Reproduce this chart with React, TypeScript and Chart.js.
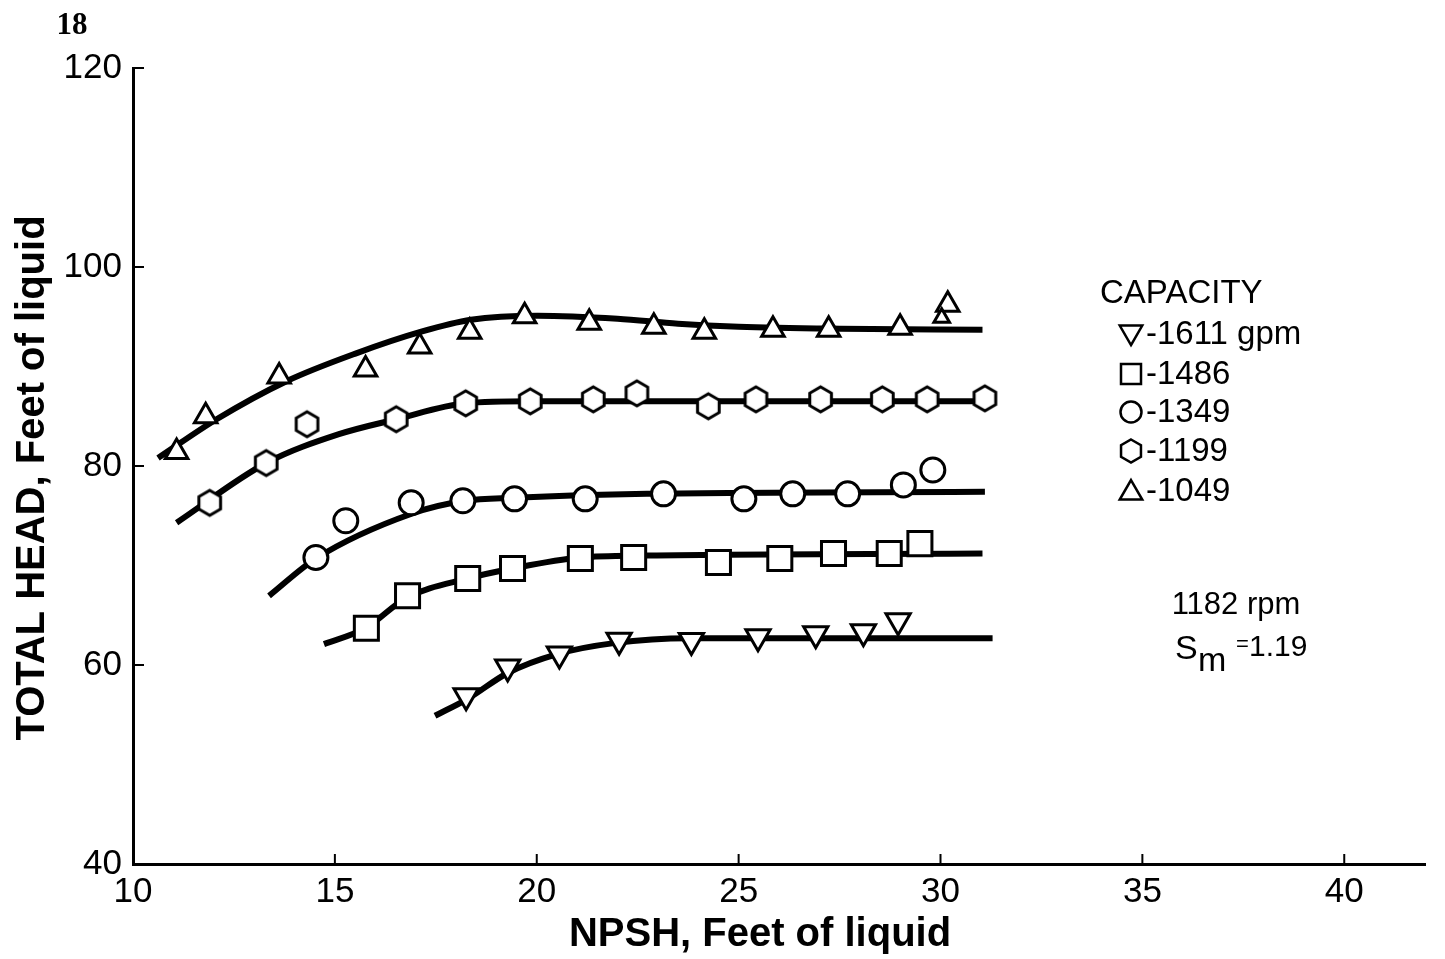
import React, { useEffect, useRef } from 'react';
import { Chart, registerables } from 'chart.js';
Chart.register(...registerables);

const FONT = '"Liberation Sans", Arial, sans-serif';

const xTicks = [10, 15, 20, 25, 30, 35, 40];
const yTicks = [40, 60, 80, 100, 120];

const legendLabels = ['-1611 gpm', '-1486', '-1349', '-1199', '-1049'];

// measured points (NPSH, total head)
const x1611 = [18.25, 19.28, 20.56, 22.04, 23.83, 25.48, 26.91, 28.09, 28.95];
const y1611 = [56.9, 59.8, 61.1, 62.5, 62.45, 62.85, 63.15, 63.35, 64.45];

const x1486 = [15.78, 16.8, 18.29, 19.4, 21.08, 22.4, 24.5, 26.02, 27.35, 28.73, 29.49];
const y1486 = [63.7, 66.95, 68.7, 69.7, 70.7, 70.8, 70.3, 70.7, 71.2, 71.2, 72.2];

const x1349 = [14.53, 15.27, 16.89, 18.17, 19.45, 21.2, 23.14, 25.13, 26.34, 27.7, 29.08, 29.81];
const y1349 = [70.8, 74.5, 76.3, 76.5, 76.7, 76.7, 77.2, 76.7, 77.2, 77.2, 78.1, 79.6];

const x1199 = [11.9, 13.3, 14.31, 16.52, 18.24, 19.84, 21.4, 22.48, 24.25, 25.43, 27.03, 28.56, 29.67, 31.1];
const y1199 = [76.3, 80.3, 84.2, 84.7, 86.3, 86.5, 86.7, 87.3, 86.0, 86.7, 86.7, 86.7, 86.7, 86.8];

const x1049 = [11.08, 11.8, 13.62, 15.76, 17.1, 18.34, 19.7, 21.3, 22.9, 24.15, 25.85, 27.23, 29.0, 30.18, 30.03];
const y1049 = [81.4, 85.0, 89.0, 89.7, 92.0, 93.5, 95.05, 94.4, 94.0, 93.5, 93.7, 93.7, 93.9, 96.2, 94.9];

// faired curves
const cx1611 = [17.48, 18.29, 19.28, 20.51, 21.91, 23.78, 31.29];
const cy1611 = [54.9, 56.6, 59.2, 61.1, 62.2, 62.7, 62.7];

const cx1486 = [14.73, 15.76, 16.77, 18.29, 19.4, 21.08, 22.73, 31.04];
const cy1486 = [62.1, 63.7, 66.75, 68.7, 69.7, 70.8, 71.0, 71.2];

const cx1349 = [13.37, 14.53, 16.9, 18.22, 19.45, 22.73, 31.1];
const cy1349 = [66.95, 70.7, 75.2, 76.5, 76.8, 77.2, 77.4];

const cx1199 = [11.08, 13.3, 15.1, 16.52, 18.24, 19.84, 25.0, 31.1];
const cy1199 = [74.3, 80.3, 83.2, 84.7, 86.3, 86.5, 86.5, 86.5];

const cx1049 = [10.62, 12.07, 13.79, 15.51, 17.14, 18.37, 20.02, 22.0, 23.5, 25.0, 27.5, 31.04];
const cy1049 = [80.8, 84.7, 88.5, 91.3, 93.5, 94.7, 95.1, 94.8, 94.3, 94.0, 93.8, 93.7];

const zip = (xs: number[], ys: number[]) => xs.map((x, i) => ({ x, y: ys[i] }));

function hexPath(ctx: CanvasRenderingContext2D, cx: number, cy: number, r: number) {
  ctx.beginPath();
  for (let i = 0; i < 6; i++) {
    const a = -Math.PI / 2 + (i * Math.PI) / 3;
    const px = cx + r * Math.cos(a);
    const py = cy + r * Math.sin(a);
    if (i === 0) ctx.moveTo(px, py);
    else ctx.lineTo(px, py);
  }
  ctx.closePath();
}

function makeHex(r: number, lw: number) {
  const c = document.createElement('canvas');
  const s = Math.ceil(2 * (r + lw));
  c.width = s;
  c.height = s;
  const g = c.getContext('2d')!;
  hexPath(g, s / 2, s / 2, r);
  g.fillStyle = '#fff';
  g.fill();
  g.lineWidth = lw;
  g.strokeStyle = '#000';
  g.stroke();
  return c;
}

function triPath(ctx: CanvasRenderingContext2D, cx: number, cy: number, r: number, down: boolean) {
  const s = down ? -1 : 1;
  ctx.beginPath();
  ctx.moveTo(cx, cy - s * r);
  ctx.lineTo(cx + r * 0.866, cy + s * r * 0.5);
  ctx.lineTo(cx - r * 0.866, cy + s * r * 0.5);
  ctx.closePath();
}

const annotPlugin = {
  id: 'annot',
  afterDraw(chart: any) {
    const ctx: CanvasRenderingContext2D = chart.ctx;
    const xs = chart.scales.x;
    const ys = chart.scales.y;
    const area = chart.chartArea;
    ctx.save();
    ctx.strokeStyle = '#000';
    ctx.fillStyle = '#000';
    ctx.lineWidth = 2;
    xs.ticks.forEach((t: any) => {
      if (t.value === xs.min) return;
      const px = xs.getPixelForValue(t.value);
      ctx.beginPath();
      ctx.moveTo(px, area.bottom);
      ctx.lineTo(px, area.bottom - 10);
      ctx.stroke();
    });
    ys.ticks.forEach((t: any) => {
      if (t.value === ys.min) return;
      const py = ys.getPixelForValue(t.value);
      ctx.beginPath();
      ctx.moveTo(area.left, py);
      ctx.lineTo(area.left + 11, py);
      ctx.stroke();
    });

    // axis titles
    ctx.textBaseline = 'middle';
    ctx.textAlign = 'center';
    ctx.font = `bold 40px ${FONT}`;
    ctx.fillText('NPSH, Feet of liquid', 760, 935);
    ctx.save();
    ctx.translate(33, 478);
    ctx.rotate(-Math.PI / 2);
    ctx.font = `bold 40px ${FONT}`;
    ctx.fillText('TOTAL HEAD, Feet of liquid', 0, 0);
    ctx.restore();

    // page number
    ctx.font = 'bold 31px "Liberation Serif", "DejaVu Serif", serif';
    ctx.fillText('18', 72, 26);

    // legend
    ctx.textAlign = 'left';
    ctx.font = `33px ${FONT}`;
    ctx.fillText('CAPACITY', 1100, 294);
    const rowY = [334, 374, 412, 451, 491];
    const mx = 1131;
    ctx.lineWidth = 2.5;
    legendLabels.forEach((lab, i) => {
      const y = rowY[i];
      ctx.fillStyle = '#fff';
      if (i === 0) triPath(ctx, mx, y - 2, 13, true);
      else if (i === 1) { ctx.beginPath(); ctx.rect(mx - 10, y - 10, 20, 20); }
      else if (i === 2) { ctx.beginPath(); ctx.arc(mx, y, 10.5, 0, Math.PI * 2); }
      else if (i === 3) hexPath(ctx, mx, y, 11.5);
      else triPath(ctx, mx, y + 2, 13, false);
      ctx.fill();
      ctx.stroke();
      ctx.fillStyle = '#000';
      ctx.font = `33px ${FONT}`;
      ctx.fillText(lab, 1146, y + 1);
    });

    // speed annotation
    ctx.textAlign = 'center';
    ctx.font = `31px ${FONT}`;
    ctx.fillText('1182 rpm', 1236, 605);
    ctx.textAlign = 'left';
    ctx.font = `34px ${FONT}`;
    ctx.fillText('S', 1175, 650);
    ctx.font = `34px ${FONT}`;
    ctx.fillText('m', 1198, 662);
    ctx.font = `22px ${FONT}`;
    ctx.fillText('=', 1236, 645);
    ctx.font = `30px ${FONT}`;
    ctx.fillText('1.19', 1249, 648);
    ctx.restore();
  },
};

export default function App() {
  const ref = useRef<HTMLCanvasElement>(null);
  useEffect(() => {
    document.body.style.margin = '0';
    const hex = makeHex(12.5, 3);
    const lineDs = (xs: number[], ys: number[]) => ({
      type: 'scatter' as const,
      data: zip(xs, ys),
      showLine: true,
      borderColor: '#000',
      borderWidth: 6,
      pointRadius: 0,
      cubicInterpolationMode: 'monotone' as const,
      fill: false,
      order: 2,
    });
    const markerDs = (label: string, xs: number[], ys: number[], style: any, radius: any, rotation = 0) => ({
      type: 'scatter' as const,
      label,
      data: zip(xs, ys),
      showLine: false,
      pointStyle: style,
      pointRadius: radius,
      pointRotation: rotation,
      pointBackgroundColor: '#fff',
      pointBorderColor: '#000',
      pointBorderWidth: 3,
      order: 1,
    });
    const chart = new Chart(ref.current!, {
      type: 'scatter',
      data: {
        datasets: [
          markerDs('1611 gpm', x1611, y1611, 'triangle', 14, 180),
          markerDs('1486', x1486, y1486, 'rect', 17),
          markerDs('1349', x1349, y1349, 'circle', 12),
          markerDs('1199', x1199, y1199, hex, 12),
          markerDs('1049', x1049, y1049, 'triangle', x1049.map((_, i) => (i === x1049.length - 1 ? 9 : 13))),
          lineDs(cx1611, cy1611),
          lineDs(cx1486, cy1486),
          lineDs(cx1349, cy1349),
          lineDs(cx1199, cy1199),
          lineDs(cx1049, cy1049),
        ] as any,
      },
      options: {
        responsive: false,
        animation: false,
        devicePixelRatio: 1,
        events: [],
        layout: { padding: { top: 68, right: 12, left: 0, bottom: 0 } },
        plugins: { legend: { display: false }, tooltip: { enabled: false } },
        scales: {
          x: {
            type: 'linear',
            min: 10,
            max: 42,
            grid: { display: false, drawTicks: false },
            border: { display: true, color: '#000', width: 3 },
            ticks: { font: { family: FONT, size: 35 }, color: '#000', padding: 7, includeBounds: false, maxRotation: 0 },
            afterBuildTicks: (s: any) => {
              s.ticks = xTicks.map((v) => ({ value: v }));
            },
            afterFit: (s: any) => {
              s.height = 95;
            },
          },
          y: {
            type: 'linear',
            min: 40,
            max: 120,
            grid: { display: false, drawTicks: false },
            border: { display: true, color: '#000', width: 3 },
            ticks: { font: { family: FONT, size: 35 }, color: '#000', padding: 11, includeBounds: false },
            afterBuildTicks: (s: any) => {
              s.ticks = yTicks.map((v) => ({ value: v }));
            },
            afterFit: (s: any) => {
              s.width = 133;
            },
          },
        },
      } as any,
      plugins: [annotPlugin],
    });
    return () => chart.destroy();
  }, []);
  return (
    <div style={{ position: 'absolute', left: 0, top: 0, width: 1445, height: 959, background: '#fff' }}>
      <canvas ref={ref} width={1445} height={959} style={{ display: 'block' }} />
    </div>
  );
}
